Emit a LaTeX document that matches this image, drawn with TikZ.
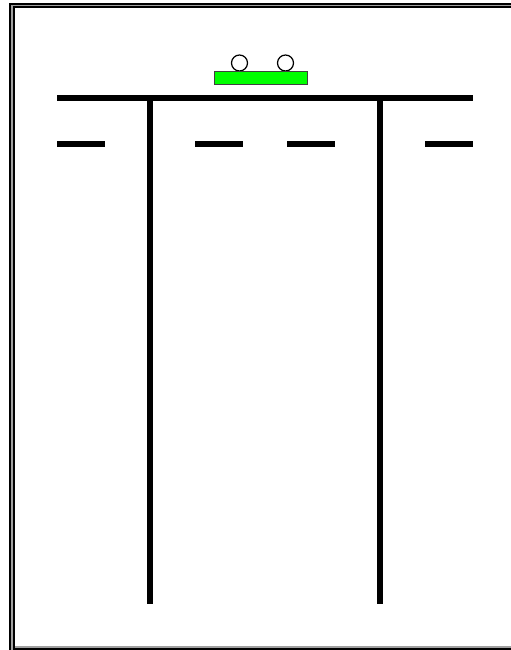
\documentclass[tikz,border=0pt]{standalone}
\usepackage{tikz}
\definecolor{cartgreen}{RGB}{0,255,0}
\definecolor{framegray}{RGB}{160,160,160}
\tikzset{
  rail/.style={line width=0.12cm},
  wheel/.style={draw, fill=white, line width=0.7pt},
}
\begin{document}
\begin{tikzpicture}[x=0.02cm, y=-0.02cm]
    \useasboundingbox (0,0) rectangle (511,650);
    % frame
    \clip (0,0) rectangle (511,650);
    \fill[black] (9,3) rectangle (520,650);
    \fill[framegray] (10.5,5) rectangle (520,650);
    \fill[black] (13,6) rectangle (520,650);
    \fill[white] (15,8) rectangle (520,646);
    \fill[framegray] (15,646) rectangle (520,647.5);
    % cart
    \draw[wheel] (239.5,63) circle[radius=0.16cm];
    \draw[wheel] (285.5,63) circle[radius=0.16cm];
    \draw[draw=black!75, fill=cartgreen, line width=0.5pt] (214.5,71) rectangle (307,84.5);
    % rails
    \draw[rail] (57,98) -- (473,98);
    \draw[rail] (150,98) -- (150,604);
    \draw[rail] (380,98) -- (380,604);
    \draw[rail] (57,144) -- (105,144);
    \draw[rail] (195,144) -- (243,144);
    \draw[rail] (287,144) -- (335,144);
    \draw[rail] (425,144) -- (473,144);
\end{tikzpicture}
\end{document}
